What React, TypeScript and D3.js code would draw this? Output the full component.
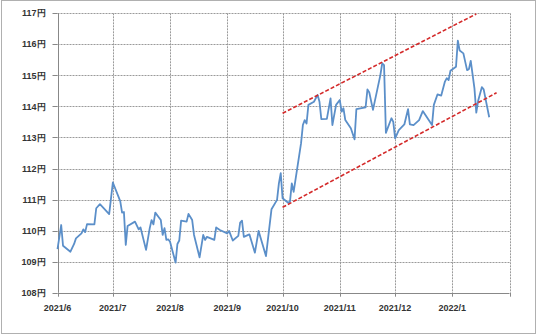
import React from "react";
import * as d3 from "d3";

const yTicks = [108, 109, 110, 111, 112, 113, 114, 115, 116, 117];
const xTickLabels = ["2021/6", "2021/7", "2021/8", "2021/9", "2021/10", "2021/11", "2021/12", "2022/1", ""];
const xTickDates = ["2021-06-01", "2021-07-01", "2021-08-01", "2021-09-01", "2021-10-01", "2021-11-01", "2021-12-01", "2022-01-01", "2022-02-01"];

const rateDates = [
  "2021-06-01", "2021-06-03", "2021-06-04", "2021-06-08", "2021-06-10", "2021-06-11", "2021-06-14", "2021-06-15",
  "2021-06-16", "2021-06-17", "2021-06-21", "2021-06-22", "2021-06-24", "2021-06-29", "2021-07-01", "2021-07-05",
  "2021-07-06", "2021-07-07", "2021-07-08", "2021-07-09", "2021-07-13", "2021-07-15", "2021-07-16", "2021-07-19",
  "2021-07-21", "2021-07-22", "2021-07-23", "2021-07-24", "2021-07-27", "2021-07-28", "2021-07-29", "2021-07-30",
  "2021-07-31", "2021-08-01", "2021-08-04", "2021-08-05", "2021-08-06", "2021-08-07", "2021-08-10", "2021-08-11",
  "2021-08-13", "2021-08-14", "2021-08-17", "2021-08-19", "2021-08-20", "2021-08-21", "2021-08-25", "2021-08-26",
  "2021-08-28", "2021-09-01", "2021-09-02", "2021-09-04", "2021-09-07", "2021-09-08", "2021-09-09", "2021-09-10",
  "2021-09-13", "2021-09-16", "2021-09-18", "2021-09-22", "2021-09-25", "2021-09-28", "2021-09-29", "2021-09-30",
  "2021-10-01", "2021-10-04", "2021-10-05", "2021-10-06", "2021-10-07", "2021-10-11", "2021-10-12", "2021-10-13",
  "2021-10-14", "2021-10-15", "2021-10-18", "2021-10-20", "2021-10-21", "2021-10-22", "2021-10-25", "2021-10-27",
  "2021-10-28", "2021-10-30", "2021-11-01", "2021-11-02", "2021-11-03", "2021-11-04", "2021-11-07", "2021-11-09",
  "2021-11-10", "2021-11-15", "2021-11-16", "2021-11-17", "2021-11-19", "2021-11-23", "2021-11-24", "2021-11-25",
  "2021-11-26", "2021-11-29", "2021-11-30", "2021-12-01", "2021-12-03", "2021-12-06", "2021-12-08", "2021-12-09",
  "2021-12-11", "2021-12-14", "2021-12-16", "2021-12-21", "2021-12-22", "2021-12-24", "2021-12-26", "2021-12-28",
  "2021-12-29", "2021-12-30", "2021-12-31", "2022-01-03", "2022-01-04", "2022-01-05", "2022-01-07", "2022-01-09",
  "2022-01-10", "2022-01-11", "2022-01-13", "2022-01-14", "2022-01-15", "2022-01-17", "2022-01-18", "2022-01-21"
];
const rateValues = [
  109.40, 110.18, 109.51, 109.32, 109.57, 109.75, 109.91, 110.04,
  109.95, 110.21, 110.20, 110.72, 110.85, 110.53, 111.55, 110.95,
  110.58, 110.60, 109.54, 110.15, 110.29, 110.04, 110.10, 109.38,
  110.08, 110.34, 110.20, 110.58, 110.34, 109.86, 110.08, 109.70,
  109.72, 109.64, 108.97, 109.57, 109.68, 110.32, 110.29, 110.54,
  110.34, 109.86, 109.14, 109.86, 109.70, 109.80, 109.70, 110.10,
  110.02, 109.91, 109.99, 109.68, 109.83, 110.26, 110.32, 109.80,
  109.88, 109.29, 109.99, 109.18, 110.69, 110.99, 111.52, 111.85,
  111.04, 110.90, 110.93, 111.52, 111.25, 112.81, 113.40, 113.56,
  113.45, 114.05, 114.15, 114.37, 114.15, 113.59, 113.60, 114.26,
  113.40, 114.05, 114.21, 113.83, 113.94, 113.56, 113.30, 112.94,
  113.91, 113.97, 114.55, 114.45, 113.89, 115.01, 115.39, 115.33,
  113.15, 113.62, 113.50, 112.97, 113.24, 113.42, 113.91, 113.42,
  113.40, 113.56, 113.85, 113.40, 114.05, 114.39, 114.35, 114.80,
  114.91, 114.85, 115.15, 115.28, 116.12, 115.80, 115.71, 115.17,
  115.20, 115.47, 114.58, 113.80, 114.18, 114.62, 114.55, 113.65
];

const upperTrendDates = ["2021-10-01", "2022-01-14"];
const upperTrendValues = [113.78, 116.98];
const lowerTrendDates = ["2021-10-01", "2022-01-25"];
const lowerTrendValues = [110.75, 114.44];

const parse = d3.timeParse("%Y-%m-%d");

export default function App() {
  const W = 540, H = 336;
  const left = 57.5, right = 509.5, top = 13.3, bottom = 292.7;
  const x = d3.scaleTime()
    .domain([parse("2021-06-01") as Date, parse("2022-02-01") as Date])
    .range([left, right]);
  const y = d3.scaleLinear().domain([108, 117]).range([bottom, top]);

  const rates = rateDates.map((d, i) => ({ d: parse(d) as Date, v: rateValues[i] }));
  const line = d3.line<{ d: Date; v: number }>().x(p => x(p.d)).y(p => y(p.v));
  const upper = upperTrendDates.map((d, i) => ({ d: parse(d) as Date, v: upperTrendValues[i] }));
  const lower = lowerTrendDates.map((d, i) => ({ d: parse(d) as Date, v: lowerTrendValues[i] }));
  const xt = xTickDates.map(d => parse(d) as Date);

  const font = "'Liberation Sans', Arial, sans-serif";
  const gridColor = "#9a9a9a";

  return (
    <svg width={W} height={H} style={{ position: "absolute", left: 0, top: 0, background: "#fff" }}>
      <rect x={1.5} y={0.5} width={534} height={333} fill="#fff" stroke="#b0b0b0" strokeWidth={1} />
      {/* horizontal grid */}
      {yTicks.map(t => (
        <g key={"y" + t}>
          {t !== 108 && (
            <line x1={left} x2={right} y1={Math.round(y(t)) + 0.5} y2={Math.round(y(t)) + 0.5}
              stroke={gridColor} strokeWidth={1} strokeDasharray="2,1" />
          )}
          <line x1={left - 5} x2={left} y1={Math.round(y(t)) + 0.5} y2={Math.round(y(t)) + 0.5} stroke="#888" />
          <text x={left - 12} y={y(t)} dy="0.35em" textAnchor="end" fontFamily={font} fontSize={9}
            fontWeight="bold" fill="#333">{t}円</text>
        </g>
      ))}
      {/* vertical grid */}
      {xt.map((d, i) => (
        <g key={"x" + i}>
          {i > 0 && (
            <line x1={Math.round(x(d)) + 0.5} x2={Math.round(x(d)) + 0.5} y1={top} y2={bottom}
              stroke={gridColor} strokeWidth={1} strokeDasharray="2,1" />
          )}
          <line x1={Math.round(x(d)) + 0.5} x2={Math.round(x(d)) + 0.5} y1={bottom} y2={bottom + 4} stroke="#888" />
          <text x={x(d)} y={bottom + 15} dy="0.35em" textAnchor="middle" fontFamily={font} fontSize={9}
            fontWeight="bold" fill="#333">{xTickLabels[i]}</text>
        </g>
      ))}
      {/* axes */}
      <line x1={Math.round(left) + 0.5} x2={Math.round(left) + 0.5} y1={top} y2={bottom} stroke="#888" />
      <line x1={left} x2={right} y1={Math.round(bottom) + 0.5} y2={Math.round(bottom) + 0.5} stroke="#888" />
      {/* rate line */}
      <path d={line(rates) || ""} fill="none" stroke="#5b8fc9" strokeWidth={1.8} strokeLinejoin="round" />
      {/* trend lines */}
      <path d={line(upper) || ""} fill="none" stroke="#d42a2a" strokeWidth={1.6} strokeDasharray="4,2" />
      <path d={line(lower) || ""} fill="none" stroke="#d42a2a" strokeWidth={1.6} strokeDasharray="4,2" />
    </svg>
  );
}
